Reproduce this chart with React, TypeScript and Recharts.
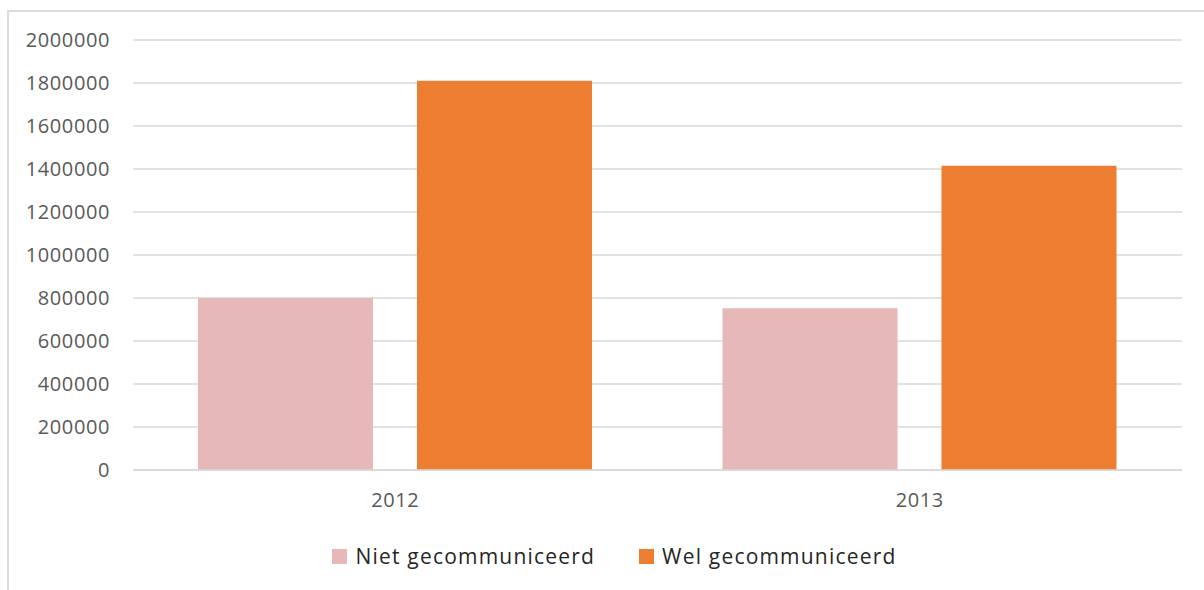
import React from 'react';
import { BarChart, Bar, XAxis, YAxis, CartesianGrid, Legend } from 'recharts';

// Values
const years = ['2012', '2013'];
const nietGecommuniceerd = [800000, 752000];
const welGecommuniceerd = [1810000, 1415000];
const yTicks = [0, 200000, 400000, 600000, 800000, 1000000, 1200000, 1400000, 1600000, 1800000, 2000000];

const data = years.map((year, i) => ({
  year,
  niet: nietGecommuniceerd[i],
  wel: welGecommuniceerd[i],
}));

const FONT = '"Open Sans", sans-serif';

const LegendContent = ({ payload }: any) => (
  <div style={{ display: 'flex', justifyContent: 'center', paddingLeft: 25, fontFamily: FONT }}>
    {(payload || []).map((entry: any, i: number) => (
      <div key={i} style={{ display: 'flex', alignItems: 'center', marginLeft: i > 0 ? 44 : 0 }}>
        <span style={{ width: 15, height: 15, background: entry.color, display: 'inline-block', marginRight: 8 }} />
        <span style={{ fontSize: 21, letterSpacing: 1.2, color: '#262626' }}>{entry.value}</span>
      </div>
    ))}
  </div>
);

const App: React.FC = () => {
  return (
    <div style={{ position: 'absolute', left: 0, top: 0, width: 1204, height: 590, overflow: 'hidden', background: '#fff' }}>
      <div
        style={{
          position: 'absolute',
          left: 7,
          top: 10,
          width: 1240,
          height: 620,
          border: '2px solid #DCDCDC',
        }}
      />
      <BarChart
        width={1204}
        height={590}
        data={data}
        margin={{ top: 40, right: 22, left: 0, bottom: 90 }}
        barGap={44}
        barSize={175}
        style={{ position: 'absolute', left: 0, top: 0 }}
      >
        <CartesianGrid vertical={false} stroke="#D9D9D9" strokeWidth={1.5} />
        <XAxis
          dataKey="year"
          height={30}
          tickLine={false}
          tickSize={0}
          tickMargin={23}
          axisLine={{ stroke: '#D9D9D9', strokeWidth: 1.5 }}
          tick={{ fill: '#595959', fontSize: 20, fontFamily: FONT, letterSpacing: 0.6 }}
        />
        <YAxis
          width={133}
          domain={[0, 2000000]}
          ticks={yTicks}
          interval={0}
          axisLine={false}
          tickLine={false}
          tickSize={0}
          tickMargin={23}
          tick={{ fill: '#595959', fontSize: 20, fontFamily: FONT, letterSpacing: 0.6 }}
        />
        <Legend
          verticalAlign="middle"
          layout="horizontal"
          wrapperStyle={{ top: 542, left: 0, width: 1204 }}
          content={<LegendContent />}
        />
        <Bar dataKey="niet" name="Niet gecommuniceerd" fill="#E6B8B7" isAnimationActive={false} />
        <Bar dataKey="wel" name="Wel gecommuniceerd" fill="#ED7D31" isAnimationActive={false} />
      </BarChart>
    </div>
  );
};

export default App;
